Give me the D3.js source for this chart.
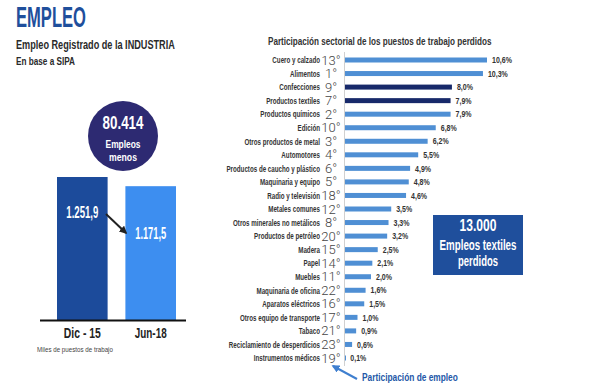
<!DOCTYPE html>
<html><head><meta charset="utf-8">
<script src="https://cdn.jsdelivr.net/npm/d3@7"></script>
<style>
body{margin:0;background:#fff;}
svg{display:block;}
</style></head>
<body><svg id="c" width="610" height="387"></svg>
<script>
// ---- Left chart data
const periods = ["Dic - 15", "Jun-18"];
const employment = [1251.9, 1171.5];
const employmentLabels = ["1.251,9", "1.171,5"];
const lostJobs = "80.414";

// ---- Right chart data
const sectors = ["Cuero y calzado","Alimentos","Confecciones","Productos textiles","Productos químicos","Edición","Otros productos de metal","Automotores","Productos de caucho y plástico","Maquinaria y equipo","Radio y televisión","Metales comunes","Otros minerales no metálicos","Productos de petróleo","Madera","Papel","Muebles","Maquinaria de oficina","Aparatos eléctricos","Otros equipo de transporte","Tabaco","Reciclamiento de desperdicios","Instrumentos médicos"];
const ranks = ["13°","1°","9°","7°","2°","10°","3°","4°","6°","5°","18°","12°","8°","20°","15°","14°","11°","22°","16°","17°","21°","23°","19°"];
const shares = [10.6,10.3,8.0,7.9,7.9,6.8,6.2,5.5,4.9,4.8,4.6,3.5,3.3,3.2,2.5,2.1,2.0,1.6,1.5,1.0,0.9,0.6,0.1];
const highlighted = ["Confecciones","Productos textiles"];

const svg = d3.select("#c");
const F = '"Liberation Sans","Arial",sans-serif';

// condensed text helper: scale horizontally around anchor point
function ct(parent, x, y, str, o) {
  const t = parent.append("text")
    .attr("font-family", o.family || F)
    .attr("font-weight", o.weight || "bold")
    .attr("font-size", o.size)
    .attr("fill", o.fill || "#222")
    .attr("text-anchor", o.anchor || "start")
    .text(str);
  let s = o.sx || 1;
  if (o.w) { const L = t.node().getComputedTextLength(); if (L > 0) s = o.w / L; }
  t.attr("transform", `translate(${x},${y}) scale(${s},1)`);
  return t;
}

// Titles
ct(svg, 16, 27, "EMPLEO", {size:29, fill:"#1f4f9c", w:70});
ct(svg, 16, 48.5, "Empleo Registrado de la INDUSTRIA", {size:12, fill:"#2a2a2a", w:159});
ct(svg, 16, 64.5, "En base a SIPA", {size:11, fill:"#2a2a2a", w:59});

// ---- Left bar chart
const xL = d3.scaleBand().domain(periods).range([57,176]).paddingInner(0.26).paddingOuter(0);
const yL = d3.scaleLinear().domain([0, d3.max(employment)]).range([320,177]);
const barColors = ["#1c4b9b","#3d8ef0"];
svg.append("g").selectAll("rect").data(periods).join("rect")
  .attr("x",d=>xL(d)).attr("width",xL.bandwidth())
  .attr("y",(d,i)=>yL(employment[i])).attr("height",(d,i)=>yL(0)-yL(employment[i]))
  .attr("fill",(d,i)=>barColors[i]);
svg.append("line").attr("x1",40).attr("x2",186).attr("y1",yL(0)+0.5).attr("y2",yL(0)+0.5)
  .attr("stroke","#111").attr("stroke-width",2);
const xAxisL = d3.axisBottom(xL).tickSize(0).tickPadding(0);
const gx = svg.append("g").attr("transform",`translate(0,${yL(0)})`).call(xAxisL);
gx.select(".domain").remove();
const tickW = [37, 32];
gx.selectAll(".tick text").each(function(d,i){
  const t = d3.select(this).attr("font-family",F).attr("font-weight","bold").attr("font-size",15)
    .attr("fill","#222").attr("dy",null).attr("y",0).attr("text-anchor","middle");
  const L = this.getComputedTextLength();
  t.attr("transform",`translate(0,18) scale(${tickW[i]/L},1)`);
});
ct(svg, 37, 352, "Miles de puestos de trabajo", {size:8, weight:"normal", fill:"#444", w:76});
// value labels
const vOff = [41, 53];
const vW = [32, 31];
periods.forEach((d,i)=>{
  ct(svg, xL(d)+xL.bandwidth()/2, yL(employment[i])+vOff[i], employmentLabels[i],
     {size:17, fill:"#fff", anchor:"middle", w:vW[i]});
});
// arrow
const defs = svg.append("defs");
defs.append("marker").attr("id","ah").attr("viewBox","0 0 10 10").attr("refX",8).attr("refY",5)
  .attr("markerWidth",4).attr("markerHeight",4).attr("orient","auto")
  .append("path").attr("d","M0,0L10,5L0,10z").attr("fill","#222");
svg.append("line").attr("x1",106).attr("y1",214).attr("x2",126).attr("y2",233)
  .attr("stroke","#222").attr("stroke-width",2).attr("marker-end","url(#ah)");
// circle
svg.append("circle").attr("cx",123).attr("cy",136).attr("r",35).attr("fill","#2d2a72");
ct(svg, 123, 129, lostJobs, {size:18, fill:"#fff", anchor:"middle", w:41});
ct(svg, 123, 148, "Empleos", {size:11, fill:"#fff", anchor:"middle", w:35});
ct(svg, 123, 161, "menos", {size:11, fill:"#fff", anchor:"middle", w:28});

// ---- Right chart
ct(svg, 268, 45, "Participación sectorial de los puestos de trabajo perdidos", {size:11, fill:"#333", w:224});
const x0 = 344;
const xR = d3.scaleLinear().domain([0, d3.max(shares)]).range([x0, 487]);
const yR = d3.scalePoint().domain(sectors).range([60, 358]);
const bh = 5;
svg.append("line").attr("x1",x0+0.5).attr("x2",x0+0.5).attr("y1",52).attr("y2",366)
  .attr("stroke","#d0d0d0").attr("stroke-width",1);
svg.append("g").selectAll("rect").data(sectors).join("rect")
  .attr("x",xR(0)+1).attr("y",d=>yR(d)-bh/2).attr("height",bh)
  .attr("width",(d,i)=>Math.max(1,xR(shares[i])-xR(0)-1))
  .attr("fill",d=>highlighted.includes(d)?"#17296a":"#4f8fd4");
const gLab = svg.append("g");
sectors.forEach((d,i)=>{
  ct(gLab, xR(shares[i])+5, yR(d)+3.2, d3.format(".1f")(shares[i]).replace(".",",")+"%",
     {size:9, fill:"#333", sx:0.78});
  ct(gLab, 320, yR(d)+3.3, d, {size:9.5, fill:"#333", anchor:"end", sx:0.655});
  ct(gLab, 331, yR(d)+4.5, ranks[i], {size:13, weight:300, family:"Roboto,'Open Sans',sans-serif", fill:"#444", anchor:"middle"});
});

// Box
svg.append("rect").attr("x",433).attr("y",215).attr("width",90).attr("height",60).attr("fill","#1f4f9c");
ct(svg, 478, 231, "13.000", {size:16, fill:"#fff", anchor:"middle", w:37});
ct(svg, 478, 250, "Empleos textiles", {size:14, fill:"#fff", anchor:"middle", w:77});
ct(svg, 478, 266, "perdidos", {size:14, fill:"#fff", anchor:"middle", w:40});

// bottom annotation arrow
defs.append("marker").attr("id","ah2").attr("viewBox","0 0 10 10").attr("refX",8).attr("refY",5)
  .attr("markerWidth",4).attr("markerHeight",4).attr("orient","auto")
  .append("path").attr("d","M0,0L10,5L0,10z").attr("fill","#3f7fcf");
svg.append("line").attr("x1",357).attr("y1",379).attr("x2",333).attr("y2",366)
  .attr("stroke","#3f7fcf").attr("stroke-width",2).attr("marker-end","url(#ah2)");
ct(svg, 362, 381, "Participación de empleo", {size:11.5, fill:"#2458a8", w:96});
</script></body></html>
